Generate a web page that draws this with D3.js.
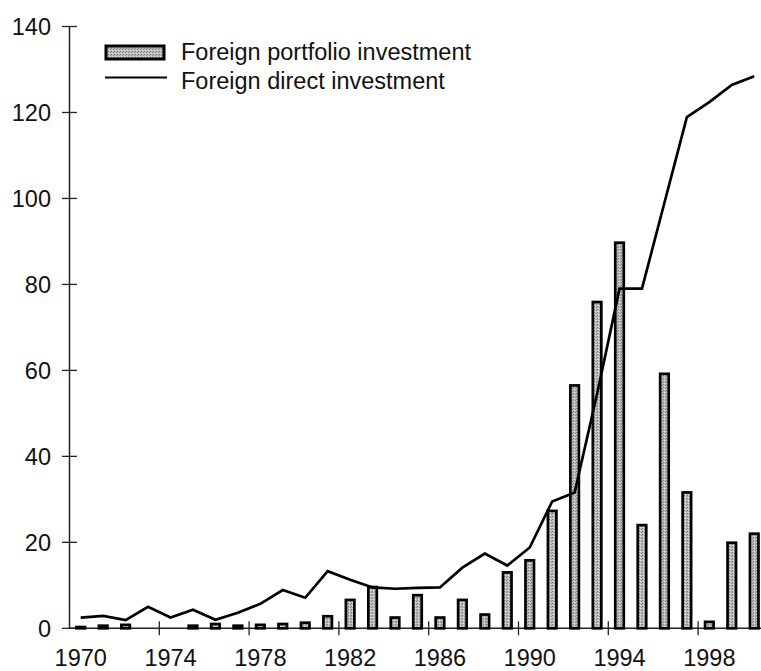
<!DOCTYPE html>
<html>
<head>
<meta charset="utf-8">
<script src="https://cdn.jsdelivr.net/npm/d3@7"></script>
<style>
  body { margin: 0; background: #fff; }
  svg { display: block; }
  text { font-family: "Liberation Sans", Arial, Helvetica, sans-serif; fill: #111; }
</style>
</head>
<body>
<svg id="chart"></svg>
<script>
// data (billions, roughly)
const years = [1970, 1971, 1972, 1973, 1974, 1975, 1976, 1977, 1978, 1979,
               1980, 1981, 1982, 1983, 1984, 1985, 1986, 1987, 1988, 1989,
               1990, 1991, 1992, 1993, 1994, 1995, 1996, 1997, 1998, 1999, 2000];
const portfolio = [0.3, 0.6, 0.8, 0, 0, 0.6, 1.0, 0.6, 0.8, 1.0,
                   1.3, 2.8, 6.6, 9.6, 2.5, 7.7, 2.5, 6.6, 3.2, 13.0,
                   15.8, 27.3, 56.5, 75.9, 89.7, 24.0, 59.2, 31.6, 1.5, 19.9, 22.0];
const direct = [2.5, 2.9, 1.9, 5.0, 2.5, 4.3, 2.0, 3.6, 5.7, 8.9,
                7.1, 13.3, 11.3, 9.5, 9.2, 9.4, 9.5, 14.1, 17.4, 14.6,
                18.8, 29.5, 31.6, 54.5, 79.0, 79.0, 99.0, 118.9, 122.4, 126.4, 128.4];
const yTicks = [0, 20, 40, 60, 80, 100, 120, 140];
const xTickYears = [1974, 1978, 1982, 1986, 1990, 1994, 1998];
const xLabelYears = [1970, 1974, 1978, 1982, 1986, 1990, 1994, 1998];
const legendLabels = ["Foreign portfolio investment", "Foreign direct investment"];

const W = 761, H = 671;
const FONT = 23.5;

const svg = d3.select("#chart").attr("width", W).attr("height", H);

// stipple fill for the bars
const pat = svg.append("defs").append("pattern")
    .attr("id", "stipple")
    .attr("width", 3).attr("height", 3)
    .attr("patternUnits", "userSpaceOnUse");
pat.append("rect").attr("width", 3).attr("height", 3).attr("fill", "#bcbcbc");
pat.append("rect").attr("x", 0).attr("y", 0).attr("width", 1).attr("height", 1).attr("fill", "#7a7a7a");
pat.append("rect").attr("x", 2).attr("y", 1).attr("width", 1).attr("height", 1).attr("fill", "#8a8a8a");
pat.append("rect").attr("x", 1).attr("y", 2).attr("width", 1).attr("height", 1).attr("fill", "#e6e6e6");

const x = d3.scaleBand()
    .domain(years)
    .range([69.5, 69.5 + 31 * 22.45])
    .paddingInner(0).paddingOuter(0);

const y = d3.scaleLinear()
    .domain([0, 140])
    .range([628.3, 26.5]);

const yearCenter = yr => x(yr) + x.bandwidth() / 2;

// y axis
svg.append("line")
    .attr("x1", 69.5).attr("x2", 69.5)
    .attr("y1", y(140)).attr("y2", y(0))
    .attr("stroke", "#222").attr("stroke-width", 1.5);

const yT = svg.append("g").selectAll("g").data(yTicks).enter().append("g");
yT.append("line")
    .attr("x1", 62).attr("x2", 77)
    .attr("y1", d => y(d)).attr("y2", d => y(d))
    .attr("stroke", "#222").attr("stroke-width", 1.3);
yT.append("text")
    .attr("x", 51).attr("y", d => y(d))
    .attr("dy", "0.36em")
    .attr("text-anchor", "end")
    .style("font-size", FONT + "px")
    .text(d => d);

// x axis
svg.append("line")
    .attr("x1", 69.5).attr("x2", W)
    .attr("y1", y(0)).attr("y2", y(0))
    .attr("stroke", "#222").attr("stroke-width", 1.5);

svg.append("g").selectAll("line").data(xTickYears).enter().append("line")
    .attr("x1", d => x(d)).attr("x2", d => x(d))
    .attr("y1", y(0) - 7).attr("y2", y(0) + 7)
    .attr("stroke", "#222").attr("stroke-width", 1.3);

svg.append("g").selectAll("text").data(xLabelYears).enter().append("text")
    .attr("x", d => yearCenter(d))
    .attr("y", 666)
    .attr("text-anchor", "middle")
    .style("font-size", FONT + "px")
    .text(d => d);

// portfolio bars
const barW = 8.5;
svg.append("g").selectAll("rect")
    .data(years.map((yr, i) => ({ yr, v: portfolio[i] })).filter(d => d.v > 0))
    .enter().append("rect")
    .attr("x", d => yearCenter(d.yr) - barW / 2)
    .attr("y", d => y(d.v))
    .attr("width", barW)
    .attr("height", d => y(0) - y(d.v))
    .attr("fill", "url(#stipple)")
    .attr("stroke", "#000")
    .attr("stroke-width", 2.7);

// direct investment line
const line = d3.line()
    .x((d, i) => yearCenter(years[i]))
    .y(d => y(d));

svg.append("path")
    .datum(direct)
    .attr("d", line)
    .attr("fill", "none")
    .attr("stroke", "#000")
    .attr("stroke-width", 2.7)
    .attr("stroke-linejoin", "miter");

// legend
const lg = svg.append("g");
lg.append("rect")
    .attr("x", 106).attr("y", 46)
    .attr("width", 58).attr("height", 13)
    .attr("fill", "url(#stipple)")
    .attr("stroke", "#000").attr("stroke-width", 3);
lg.append("line")
    .attr("x1", 105).attr("x2", 167)
    .attr("y1", 77.5).attr("y2", 77.5)
    .attr("stroke", "#000").attr("stroke-width", 2);
lg.selectAll("text").data(legendLabels).enter().append("text")
    .attr("x", 181)
    .attr("y", (d, i) => 60 + i * 29)
    .style("font-size", FONT + "px")
    .text(d => d);
</script>
</body>
</html>
